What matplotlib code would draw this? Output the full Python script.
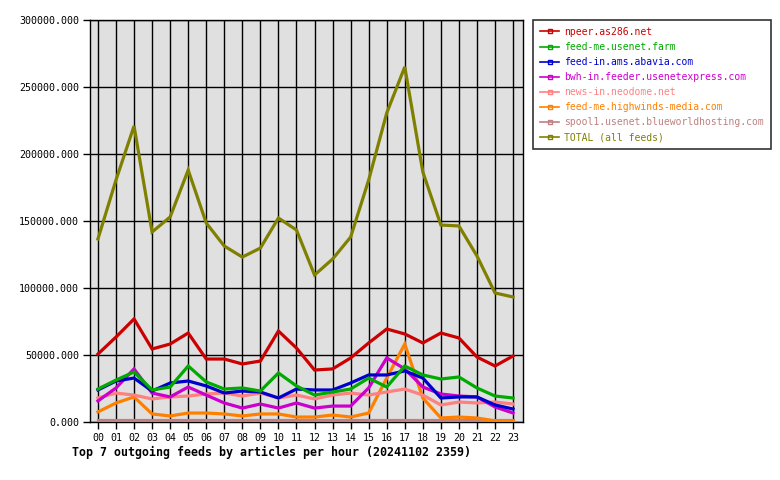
import matplotlib
matplotlib.use("Agg")
import matplotlib.pyplot as plt
from matplotlib.lines import Line2D

plt.rcParams['font.family'] = ['DejaVu Sans Mono']

hours = ["%02d" % h for h in range(24)]

# articles per hour, per feed
npeer = [50700, 63400, 76900, 54500, 58200, 66400, 47000, 47000, 43300, 45500, 67900, 55200,
         38800, 39600, 47800, 59000, 69400, 65700, 59000, 66400, 62700, 48500, 41800, 49300]
usenet_farm = [24600, 31300, 37300, 23900, 26100, 41800, 29900, 24600, 25400, 23100, 36600, 26900,
               20100, 22400, 24600, 32800, 26100, 41800, 35100, 32100, 33600, 25400, 19400, 17900]
abavia = [23900, 30600, 32800, 23100, 29100, 30600, 26900, 21600, 23100, 22400, 17900, 24600,
          23900, 23900, 29100, 35100, 35100, 38100, 32800, 17900, 18700, 18700, 12700, 9700]
usenetexpress = [15700, 25400, 39600, 21600, 18700, 26100, 20100, 14200, 10400, 13400, 10400, 14200,
                 10400, 11900, 11900, 25400, 47800, 39600, 26100, 20900, 19400, 18700, 11200, 6700]
neodome = [17900, 21600, 20100, 17200, 18700, 19400, 20900, 21600, 19400, 21600, 17900, 20100,
           17200, 20100, 21600, 20100, 22400, 24600, 20100, 12700, 14900, 14200, 14900, 13400]
highwinds = [7500, 14200, 18700, 6000, 4500, 6700, 6700, 6000, 4500, 6000, 6000, 3700,
             3700, 5200, 3700, 6700, 32800, 58200, 17900, 3000, 3700, 3000, 800, 500]
blueworld = [1500] * 24
total = [136600, 180600, 220900, 141800, 153000, 188000, 148500, 131300, 123100, 129800, 152200, 143300,
         109700, 121600, 138000, 180600, 230600, 265000, 186600, 147000, 146300, 123900, 96300, 93300]

names = ["npeer.as286.net", "feed-me.usenet.farm", "feed-in.ams.abavia.com",
         "bwh-in.feeder.usenetexpress.com", "news-in.neodome.net",
         "feed-me.highwinds-media.com", "spool1.usenet.blueworldhosting.com",
         "TOTAL (all feeds)"]
colors = ["#cc0000", "#00aa00", "#0000cc", "#cc00cc", "#ff8080", "#ff8000", "#c08080", "#808000"]
series = [npeer, usenet_farm, abavia, usenetexpress, neodome, highwinds, blueworld, total]

fig = plt.figure(figsize=(7.8, 4.8), dpi=100)
ax = fig.add_axes([90/780, 1-422/480, (523-90)/780, (422-20)/480])
ax.set_facecolor("#e0e0e0")

x = list(range(24))
# draw back to front like the original (total on top)
for s, c in zip(series[::-1], colors[::-1]):
    ax.plot(x, s, color=c, lw=2.3, solid_joinstyle='miter', zorder=3)

ax.set_xlim(-0.44, 23.55)
ax.set_ylim(0, 300000)
ax.set_xticks(x)
ax.set_xticklabels(hours)
ax.set_yticks(range(0, 300001, 50000))
ax.set_yticklabels(["%d.000" % v for v in range(0, 300001, 50000)])
ax.grid(True, color="black", lw=1)
ax.set_axisbelow(True)
for sp in ax.spines.values():
    sp.set_color("black")
    sp.set_linewidth(1)
ax.tick_params(axis='both', length=5, width=1, labelsize=7.2, color='black', pad=3)

handles = [Line2D([0], [0], color=c, lw=1.2, marker='s', markersize=3,
                  markerfacecolor='none', markeredgecolor=c) for c in colors]
leg = fig.legend(handles, names, loc='upper left', bbox_to_anchor=(533/780, 1-20/480),
                 fontsize=7.05, frameon=True, fancybox=False, edgecolor='black',
                 handlelength=2.0, handletextpad=0.5, borderpad=0.7, labelspacing=0.52,
                 borderaxespad=0)
leg.get_frame().set_linewidth(1.2)
for t, c in zip(leg.get_texts(), colors):
    t.set_color(c)

fig.text(72/780, 1-452/480, "Top 7 outgoing feeds by articles per hour (20241102 2359)",
         fontsize=8.35, fontweight='bold', va='center', ha='left')

fig.savefig("out.png", dpi=100, facecolor="white")
